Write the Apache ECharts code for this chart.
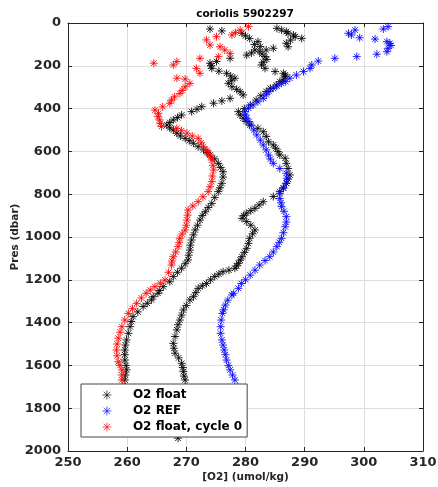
<!DOCTYPE html>
<html>
<head>
<meta charset="utf-8">
<script src="https://cdn.jsdelivr.net/npm/echarts@6/dist/echarts.min.js"></script>
<style>html,body{margin:0;padding:0;background:#fff}#c{width:438px;height:487px}</style>
</head>
<body>
<div id="c"></div>
<script>
// ---- data ----
var titleText = 'coriolis 5902297';
var xTicks = [250, 260, 270, 280, 290, 300, 310];
var yTicks = [0, 200, 400, 600, 800, 1000, 1200, 1400, 1600, 1800, 2000];

// O2 float, profile A
var floatPresA = [28,37,48,60,72,87,100,110,126,140,150,165,180,188,200,212,225,235,248,258,270,282,298,310,321,336,352,364,375,391,403,414,430,442,453,465,477,490,500,515,528,539,550,562,578,593,605,617,635,656,675,695,720,749,770,788,815,843,862,882,900,921,945,967,990,1014,1038,1061,1085,1107,1125,1146,1165,1185,1209,1232,1250,1263,1279,1294,1310,1325,1350,1372,1395,1419,1450,1481,1505,1528,1550,1575,1600,1621,1645,1668,1700];
var floatO2A =   [274.0,276.0,279.4,280.0,280.7,282.1,281.5,282.5,281.6,281.0,280.2,277.4,275.1,274.0,274.2,274.3,275.5,276.8,277.5,278.2,277.6,277.1,277.7,278.5,279.1,279.6,277.4,276.0,274.6,272.6,271.8,270.9,269.2,268.5,267.8,267.2,266.7,267.2,267.8,268.4,269.0,269.8,270.5,271.2,272.0,272.9,273.5,274.0,274.8,275.4,275.8,276.2,276.2,276.0,275.7,275.4,274.8,274.3,273.7,273.2,272.7,272.3,271.9,271.5,271.2,270.9,270.7,270.6,270.4,270.3,269.8,269.2,268.5,267.8,267.2,266.1,265.5,265.2,264.4,264.1,263.4,262.7,261.8,261.0,260.7,260.5,260.2,259.9,259.7,259.6,259.6,259.6,259.8,259.9,259.7,259.6,259.7];

// O2 float, profile B
var floatPresB = [25,33,40,48,56,64,72,80,95,111,118,126,134,145,157,170,183,196,212,227,235,243,251,266,274,290,305,320,340,360,383,400,414,430,445,460,477,492,508,530,555,570,585,601,617,632,656,680,710,730,749,770,788,811,835,850,866,877,889,900,913,928,945,967,985,1006,1030,1053,1072,1092,1108,1123,1135,1146,1155,1162,1173,1185,1200,1217,1228,1240,1260,1279,1294,1320,1341,1365,1388,1410,1434,1465,1497,1520,1543,1565,1590,1610,1629,1650,1668,1700,1730,1760,1790,1820,1850,1880,1910,1940];
var floatO2B =   [285.3,286.1,286.9,287.2,288.1,288.4,289.5,287.6,286.9,287.2,284.7,283.5,282.4,282.8,283.3,283.6,283.0,282.7,283.3,285.0,286.4,286.7,286.7,286.4,285.8,285.2,284.2,283.5,282.6,281.8,280.8,279.8,278.8,279.1,279.6,280.1,280.7,282.1,283.0,283.5,283.9,284.7,285.1,285.5,285.8,286.7,286.9,287.2,287.5,287.2,286.9,286.4,285.8,284.7,283.0,282.3,281.6,280.9,280.2,279.7,279.4,280.2,280.9,281.6,281.2,280.7,280.5,280.2,279.8,279.4,279.1,278.8,278.5,278.2,277.2,276.2,275.5,274.8,274.1,273.4,272.7,272.0,271.6,271.2,270.6,270.0,269.5,269.2,268.9,268.6,268.4,268.1,267.8,267.9,268.1,268.7,269.2,269.4,269.5,269.6,269.8,269.9,270.0,270.0,269.9,269.7,269.5,269.2,269.0,268.6];

// O2 REF
var refPres = [17,28,33,48,56,69,75,87,95,105,118,134,146,157,165,178,196,212,227,243,258,274,282,295,305,320,335,352,368,383,398,414,430,445,460,477,500,523,547,570,593,617,636,656,680,702,725,749,772,796,820,840,858,880,905,930,952,980,1006,1025,1045,1070,1092,1110,1131,1155,1178,1200,1217,1240,1263,1271,1295,1318,1340,1357,1388,1419,1450,1481,1505,1528,1550,1575,1600,1621,1645,1668,1700,1730,1760];
var refO2 =   [304.1,303.3,298.5,297.4,297.9,299.3,301.9,303.9,304.4,304.6,304.1,303.9,302.2,298.8,295.1,292.3,291.2,290.9,289.8,288.6,287.5,286.8,286.1,285.3,284.7,284.0,283.5,283.0,282.1,281.3,280.5,279.9,280.0,280.2,280.6,281.0,281.4,281.9,282.5,283.0,283.5,283.9,284.2,284.7,285.8,286.9,287.0,286.9,286.4,285.8,285.8,286.0,286.1,286.5,286.9,286.9,286.7,286.4,286.1,285.7,285.3,284.7,284.1,283.3,282.4,281.6,280.8,280.0,279.3,278.8,278.0,277.7,277.0,276.6,276.3,276.1,275.9,275.8,275.8,276.0,276.2,276.4,276.6,276.8,277.1,277.4,277.8,278.2,278.7,279.1,279.4];

// O2 float, cycle 0
var cyc0Pres = [17,33,45,56,64,79,103,111,126,142,157,165,180,188,196,212,235,258,262,282,298,315,329,345,360,375,392,407,422,438,453,470,484,492,503,515,528,539,560,578,595,609,625,640,665,687,715,741,765,788,812,835,855,874,898,921,945,967,986,1006,1025,1045,1070,1092,1112,1131,1165,1201,1216,1232,1248,1263,1285,1310,1335,1357,1388,1419,1445,1473,1500,1528,1555,1583,1600,1621,1645,1668,1700,1730];
var cyc0O2 =   [280.5,279.1,278.3,277.7,275.1,273.4,274.0,275.7,276.5,277.4,275.4,272.3,268.4,264.5,267.8,271.7,272.3,268.4,269.8,270.6,269.8,269.3,268.9,268.0,267.5,267.2,266.0,264.7,265.3,265.2,265.5,265.6,265.8,268.4,269.2,270.1,271.0,272.0,272.5,272.9,273.5,273.7,274.1,274.3,274.5,274.6,274.4,274.3,274.0,273.7,272.8,272.0,271.1,270.3,270.2,270.1,270.0,269.8,269.3,268.9,268.8,268.6,268.2,267.8,267.6,267.5,267.0,266.4,265.6,264.7,263.9,263.2,262.4,261.6,260.9,260.2,259.6,259.1,258.8,258.5,258.3,258.2,258.3,258.5,258.8,259.1,259.1,259.1,259.3,259.5];

var seriesNames = ['O2 float', 'O2 REF', 'O2 float, cycle 0'];
var seriesColors = ['#000000', '#0000ff', '#ff0000'];

// ---- chart ----
function pairs(o2, pres) { return o2.map(function (v, i) { return [v, pres[i]]; }); }
var star = 'path://M0,-10L0,10M-10,0L10,0M-7.07,-7.07L7.07,7.07M-7.07,7.07L7.07,-7.07';
var font = 'DejaVu Sans';
var axisCol = '#262626';

function sc(name, color, data) {
  return {
    type: 'scatter', name: name, data: data, symbol: star, symbolSize: 8,
    itemStyle: { color: color, borderColor: color, borderWidth: 1, opacity: 0.85 },
    emphasis: { disabled: true }, z: 2
  };
}

var chart = echarts.init(document.getElementById('c'), null, { renderer: 'canvas' });
chart.setOption({
  animation: false,
  backgroundColor: '#fff',
  title: {
    text: titleText, left: 245, top: 9, textAlign: 'center', padding: 0,
    textStyle: { fontFamily: font, fontWeight: 'bold', fontSize: 10.5, color: '#000' }
  },
  grid: { left: 68, right: 15, top: 23, bottom: 36, containLabel: false, outerBoundsMode: 'none' },
  xAxis: [{
    type: 'value', min: xTicks[0], max: xTicks[xTicks.length - 1], interval: xTicks[1] - xTicks[0],
    name: '[O2] (umol/kg)', nameLocation: 'middle', nameGap: 21, nameMoveOverlap: false,
    nameTextStyle: { fontFamily: font, fontWeight: 'bold', fontSize: 10.5, color: axisCol },
    axisLine: { show: true, onZero: false, lineStyle: { color: axisCol, width: 1 } },
    axisTick: { show: true, inside: true, length: 4, lineStyle: { color: axisCol } },
    axisLabel: { fontFamily: font, fontWeight: 'bold', fontSize: 13, color: axisCol, margin: 5,
                 formatter: function (v) { return String(v); } },
    splitLine: { show: true, lineStyle: { color: '#dedede', width: 1 } }
  }, {
    type: 'value', position: 'top', min: xTicks[0], max: xTicks[xTicks.length - 1], interval: xTicks[1] - xTicks[0],
    axisLine: { show: true, onZero: false, lineStyle: { color: axisCol, width: 1 } },
    axisTick: { show: true, inside: true, length: 4, lineStyle: { color: axisCol } },
    axisLabel: { show: false }, splitLine: { show: false }
  }],
  yAxis: [{
    type: 'value', inverse: true, min: yTicks[0], max: yTicks[yTicks.length - 1], interval: yTicks[1] - yTicks[0],
    name: 'Pres (dbar)', nameLocation: 'middle', nameGap: 47, nameMoveOverlap: false,
    nameTextStyle: { fontFamily: font, fontWeight: 'bold', fontSize: 10.5, color: axisCol },
    axisLine: { show: true, onZero: false, lineStyle: { color: axisCol, width: 1 } },
    axisTick: { show: true, inside: true, length: 4, lineStyle: { color: axisCol } },
    axisLabel: { fontFamily: font, fontWeight: 'bold', fontSize: 13, color: axisCol, margin: 7,
                 formatter: function (v) { return String(v); } },
    splitLine: { show: true, lineStyle: { color: '#dedede', width: 1 } }
  }, {
    type: 'value', position: 'right', inverse: true, min: yTicks[0], max: yTicks[yTicks.length - 1], interval: yTicks[1] - yTicks[0],
    axisLine: { show: true, onZero: false, lineStyle: { color: axisCol, width: 1 } },
    axisTick: { show: true, inside: true, length: 4, lineStyle: { color: axisCol } },
    axisLabel: { show: false }, splitLine: { show: false }
  }],
  legend: {
    orient: 'vertical', left: 81, top: 384, padding: [3, 5, 2, 21],
    itemWidth: 42, itemHeight: 9, itemGap: 0,
    backgroundColor: '#fff', borderColor: '#444', borderWidth: 1,
    selectedMode: false, z: 10,
    itemStyle: { borderWidth: 0.8 },
    textStyle: { fontFamily: font, fontWeight: 'bold', fontSize: 12, color: '#000', lineHeight: 16 },
    data: seriesNames.map(function (n) { return { name: n, icon: star }; })
  },
  series: [
    sc(seriesNames[0], seriesColors[0], pairs(floatO2A, floatPresA).concat(pairs(floatO2B, floatPresB))),
    sc(seriesNames[1], seriesColors[1], pairs(refO2, refPres)),
    sc(seriesNames[2], seriesColors[2], pairs(cyc0O2, cyc0Pres))
  ]
});
</script>
</body>
</html>
